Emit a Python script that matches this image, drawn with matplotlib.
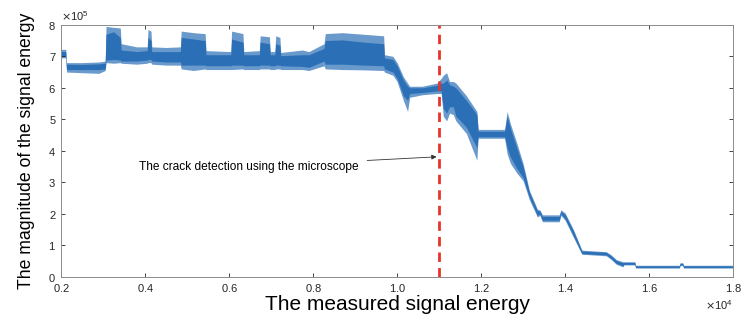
import numpy as np
import matplotlib
matplotlib.use("Agg")
import matplotlib.pyplot as plt

# envelope of the measured signal
# x in units of 1e4, y in units of 1e5
energy_x = [0.200, 0.211, 0.213, 0.250, 0.290, 0.305, 0.307, 0.325, 0.341, 0.343,
            0.380, 0.405, 0.407, 0.414, 0.416, 0.450, 0.484, 0.486, 0.515, 0.543,
            0.545, 0.604, 0.606, 0.633, 0.635, 0.672, 0.674, 0.696, 0.698, 0.709,
            0.711, 0.721, 0.723, 0.774, 0.790, 0.826, 0.829, 0.870, 0.920, 0.968,
            0.970, 0.990, 1.000, 1.015, 1.025, 1.030, 1.060, 1.095, 1.105, 1.110,
            1.118, 1.125, 1.134, 1.140, 1.165, 1.190, 1.193, 1.256, 1.262, 1.270,
            1.285, 1.300, 1.315, 1.334, 1.340, 1.346, 1.386, 1.390, 1.400, 1.420,
            1.440, 1.498, 1.510, 1.522, 1.538, 1.540, 1.566, 1.568, 1.672, 1.674,
            1.680, 1.682, 1.800]
band_low = [6.95, 6.95, 6.50, 6.48, 6.46, 6.55, 6.80, 6.78, 6.80, 6.78,
            6.75, 6.78, 6.80, 6.80, 6.75, 6.72, 6.72, 6.60, 6.55, 6.60,
            6.58, 6.58, 6.58, 6.60, 6.58, 6.58, 6.60, 6.60, 6.58, 6.58,
            6.60, 6.60, 6.58, 6.58, 6.55, 6.70, 6.60, 6.58, 6.57, 6.55,
            6.50, 6.40, 6.20, 5.60, 5.25, 5.70, 5.78, 5.82, 5.82, 5.10,
            4.95, 5.20, 5.15, 4.95, 4.55, 3.70, 4.40, 4.40, 3.90, 3.60,
            3.30, 3.05, 2.45, 1.90, 1.95, 1.75, 1.75, 1.95, 1.80, 1.25,
            0.72, 0.67, 0.55, 0.40, 0.32, 0.38, 0.38, 0.28, 0.28, 0.36,
            0.36, 0.28, 0.28]
core_low = [7.00, 7.00, 6.58, 6.58, 6.58, 6.60, 6.88, 6.90, 6.88, 6.85,
            6.85, 6.88, 6.90, 6.90, 6.85, 6.82, 6.82, 6.72, 6.72, 6.72,
            6.70, 6.70, 6.72, 6.72, 6.70, 6.70, 6.72, 6.72, 6.70, 6.70,
            6.72, 6.72, 6.70, 6.68, 6.65, 6.85, 6.75, 6.75, 6.72, 6.70,
            6.60, 6.50, 6.30, 5.75, 5.60, 5.82, 5.85, 5.90, 5.90, 5.35,
            5.20, 5.40, 5.40, 5.10, 4.75, 4.10, 4.45, 4.45, 4.10, 3.80,
            3.45, 3.15, 2.52, 1.95, 2.00, 1.80, 1.80, 2.00, 1.85, 1.30,
            0.74, 0.70, 0.58, 0.43, 0.35, 0.40, 0.40, 0.30, 0.30, 0.38,
            0.38, 0.30, 0.30]
core_high = [7.15, 7.15, 6.75, 6.74, 6.76, 6.78, 7.70, 7.78, 7.60, 7.20,
             7.15, 7.18, 7.60, 7.50, 7.15, 7.15, 7.15, 7.60, 7.55, 7.50,
             7.05, 7.05, 7.55, 7.45, 7.05, 7.05, 7.45, 7.40, 7.05, 7.05,
             7.40, 7.35, 7.02, 7.05, 7.05, 7.25, 7.50, 7.52, 7.45, 7.40,
             6.95, 6.90, 6.70, 6.25, 6.05, 6.00, 6.00, 6.08, 6.15, 6.15,
             6.25, 6.10, 6.05, 6.00, 5.60, 5.15, 4.62, 4.62, 5.10, 4.70,
             4.10, 3.50, 2.68, 2.10, 2.10, 1.92, 1.92, 2.08, 1.98, 1.45,
             0.82, 0.78, 0.66, 0.52, 0.45, 0.46, 0.46, 0.35, 0.35, 0.43,
             0.43, 0.35, 0.35]
band_high = [7.22, 7.22, 6.80, 6.80, 6.82, 6.85, 7.95, 7.92, 7.90, 7.40,
             7.30, 7.30, 7.85, 7.80, 7.30, 7.28, 7.30, 7.80, 7.75, 7.72,
             7.18, 7.15, 7.80, 7.72, 7.15, 7.18, 7.65, 7.62, 7.15, 7.15,
             7.65, 7.60, 7.12, 7.20, 7.15, 7.40, 7.72, 7.75, 7.70, 7.65,
             7.05, 7.00, 6.80, 6.35, 6.15, 6.05, 6.05, 6.15, 6.30, 6.40,
             6.48, 6.20, 6.20, 6.15, 5.75, 5.25, 4.68, 4.68, 5.25, 4.85,
             4.25, 3.60, 2.75, 2.15, 2.12, 1.97, 1.97, 2.13, 2.03, 1.50,
             0.85, 0.80, 0.70, 0.55, 0.48, 0.48, 0.48, 0.37, 0.37, 0.45,
             0.45, 0.37, 0.37]

crack_x = 11000
note_text = "The crack detection using the microscope"

x = np.array(energy_x) * 1e4
blue = "#2b70b7"

plt.rcParams['font.family'] = ['Liberation Sans', 'DejaVu Sans']

fig = plt.figure(figsize=(7.45, 3.22), dpi=100)
ax = fig.add_axes([0.082, 0.14, 0.902, 0.783])

ax.fill_between(x, np.array(band_low) * 1e5, np.array(band_high) * 1e5,
                color=blue, alpha=0.7, linewidth=0)
ax.fill_between(x, np.array(core_low) * 1e5, np.array(core_high) * 1e5,
                color=blue, linewidth=0)

ax.plot([crack_x, crack_x], [0, 8e5], color="#e8332b", linestyle=(0, (3.4, 2.2)), lw=2)

ax.annotate(note_text, xy=(10940, 3.81e5), xytext=(3860, 3.5e5),
            fontsize=8.6, va="center", ha="left",
            arrowprops=dict(arrowstyle="-|>", color="#333333", lw=0.6,
                            mutation_scale=7, shrinkA=4, shrinkB=0))

ax.set_xlim(2000, 18000)
ax.set_ylim(0, 8e5)
ax.set_xticks(np.arange(2000, 18001, 2000))
ax.set_yticks(np.arange(0, 8e5 + 1, 1e5))
ax.ticklabel_format(style="sci", scilimits=(0, 0), useMathText=True)
ax.tick_params(direction="in", length=3, width=0.6, labelsize=8,
               colors="#262626", top=True, right=True)
ax.xaxis.get_offset_text().set_fontsize(8)
ax.yaxis.get_offset_text().set_fontsize(8)
for s in ax.spines.values():
    s.set_color("#8c8c8c")
    s.set_linewidth(0.7)

ax.set_xlabel("The measured signal energy", fontsize=15,
              family=["Liberation Sans Narrow", "Liberation Sans"], labelpad=1)
ax.set_ylabel("The magnitude of the signal energy", fontsize=12.7,
              family=["Liberation Sans Narrow", "Liberation Sans"], labelpad=10)

fig.savefig("out.png", dpi=100)
